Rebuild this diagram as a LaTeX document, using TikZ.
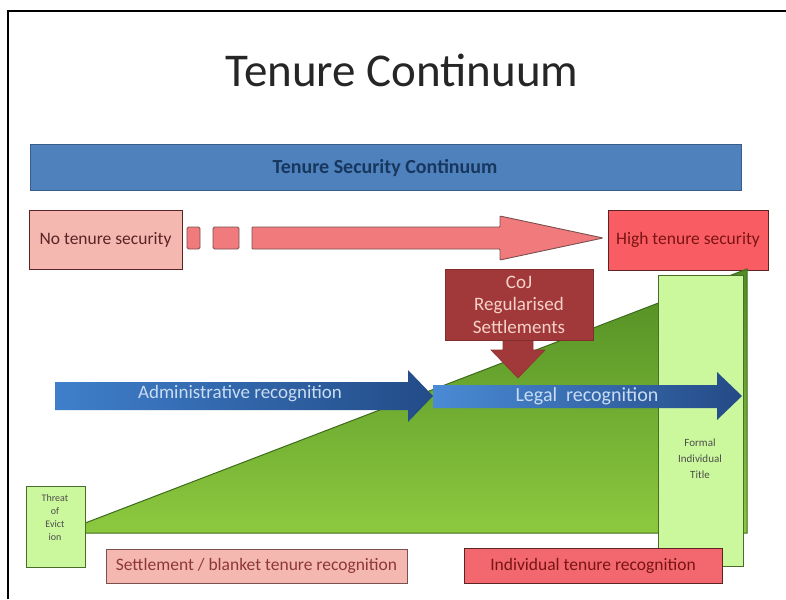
\documentclass[tikz,border=0pt]{standalone}
\usepackage{fontspec}
\setmainfont{Carlito}
\definecolor{barblue}{HTML}{4F81BD}
\definecolor{barline}{HTML}{385D8A}
\definecolor{navy}{HTML}{17375E}
\definecolor{lightpink}{HTML}{F4B8B1}
\definecolor{salmon}{HTML}{F07A7C}
\definecolor{hired}{HTML}{F95C62}
\definecolor{indred}{HTML}{F2686E}
\definecolor{darkline}{HTML}{5A2424}
\definecolor{textred}{HTML}{7A1414}
\definecolor{cojred}{HTML}{A1393A}
\definecolor{cojtext}{HTML}{F6D2CA}
\definecolor{gtop}{HTML}{4F8C23}
\definecolor{gbot}{HTML}{8DC93F}
\definecolor{gline}{HTML}{3D6B1C}
\definecolor{paleg}{HTML}{CBF89D}
\definecolor{palegline}{HTML}{4A6B2A}
\definecolor{adminL}{HTML}{3F7FCB}
\definecolor{adminM}{HTML}{2D5C9C}
\definecolor{adminR}{HTML}{234C88}
\definecolor{legalL}{HTML}{4A8BD5}
\definecolor{legalM}{HTML}{3566AA}
\definecolor{legalR}{HTML}{244A86}
\definecolor{arrowtext}{HTML}{C9DCF2}
\tikzset{
  box/.style={draw=darkline, line width=0.9pt, inner sep=0pt, align=center},
  greenbox/.style={draw=palegline, fill=paleg, line width=0.9pt, inner sep=0pt, align=center, text=black!75},
  lbl/.style={inner sep=0pt, align=center}
}
\begin{document}
\begin{tikzpicture}[x=1pt,y=-1pt]
\useasboundingbox (0,0) rectangle (786,599);
\fill[white] (0,0) rectangle (786,599);
% frame
\draw[black, line width=1.5pt] (8,599) -- (8,11) -- (786,11);
% title
\node[lbl, anchor=base, font=\fontsize{47}{50}\selectfont, text=black!85] (title) at (402,87) {Tenure Continuum};
% security bar
\node[box, draw=barline, fill=barblue, minimum width=711pt, minimum height=46pt] (bar) at (385.5,167.5) {};
\node[lbl, font=\fontsize{20}{24}\bfseries\selectfont, text=navy] (bartext) at (385,168) {Tenure Security Continuum};
% no tenure security
\node[box, fill=lightpink, minimum width=153pt, minimum height=59pt, text=darkline, font=\fontsize{17.5}{20}\selectfont] (none) at (105.5,239.5) {No tenure security};
% small squares
\node[box, draw=darkline!80, fill=salmon, minimum width=13pt, minimum height=22pt, rounded corners=1.5pt] (sq1) at (193.5,238) {};
\node[box, draw=darkline!80, fill=salmon, minimum width=26pt, minimum height=22pt, rounded corners=1.5pt] (sq2) at (226,238) {};
% pink arrow
\draw[darkline!80, fill=salmon, line width=0.9pt, rounded corners=0.8pt]
  (252,227) -- (500,227) -- (500,216) -- (603,238) -- (500,260) -- (500,249) -- (252,249) -- cycle;
\coordinate (pinktip) at (603,238);
% high tenure security
\node[box, fill=hired, minimum width=160pt, minimum height=60pt, text=textred, font=\fontsize{17.5}{20}\selectfont] (high) at (688,240) {High tenure security};
% green triangle
\path[draw=gline, line width=1pt, top color=gtop, bottom color=gbot]
  (80,525) -- (747,269) -- (747,533) -- (80,533) -- cycle;
% formal individual title
\node[greenbox, minimum width=85pt, minimum height=291pt] (formal) at (700.5,420.5) {};
\node[lbl, font=\fontsize{11}{16}\selectfont, text=black!70] (formaltext) at (700,459) {Formal\\Individual\\Title};
% threat of eviction
\node[greenbox, minimum width=59pt, minimum height=81pt] (threat) at (55.5,526.5) {};
\node[lbl, font=\fontsize{10}{13}\selectfont, text=black!70] (threattext) at (55,518) {Threat\\of\\Evict\\ion};
% CoJ arrow
\draw[cojred!90!black, fill=cojred, line width=0.6pt]
  (503,338) -- (503,350) -- (491,350) -- (518,378) -- (545,350) -- (533,350) -- (533,338) -- cycle;
\coordinate (cojtip) at (518,378);
% CoJ box
\node[box, draw=cojred!80!black, fill=cojred, minimum width=148pt, minimum height=71pt, text=cojtext, font=\fontsize{19}{22.5}\selectfont] (coj) at (519,304.5) {CoJ\\Regularised\\Settlements};
% administrative recognition arrow
\path[left color=adminL, middle color=adminM, right color=adminR]
  (55,382) -- (408,382) -- (408,370) -- (433,396) -- (408,422) -- (408,410) -- (55,410) -- cycle;
\node[lbl, font=\fontsize{19}{22}\selectfont, text=arrowtext] (admin) at (240,394) {Administrative recognition};
% legal recognition arrow
\path[left color=legalL, middle color=legalM, right color=legalR]
  (433,385) -- (717,385) -- (717,372) -- (742,396) -- (717,420) -- (717,408) -- (433,408) -- cycle;
\node[lbl, font=\fontsize{20}{22}\selectfont, text=arrowtext] (legal) at (587,396) {Legal\ \ recognition};
% bottom boxes
\node[box, draw=darkline!80, fill=lightpink, minimum width=301pt, minimum height=34pt, text=textred!85, font=\fontsize{17.5}{20}\selectfont] (settle) at (256.5,566) {Settlement / blanket tenure recognition};
\node[box, fill=indred, minimum width=258pt, minimum height=35pt, text=textred, font=\fontsize{17.5}{20}\selectfont] (indiv) at (593,565.5) {Individual tenure recognition};
\end{tikzpicture}
\end{document}
